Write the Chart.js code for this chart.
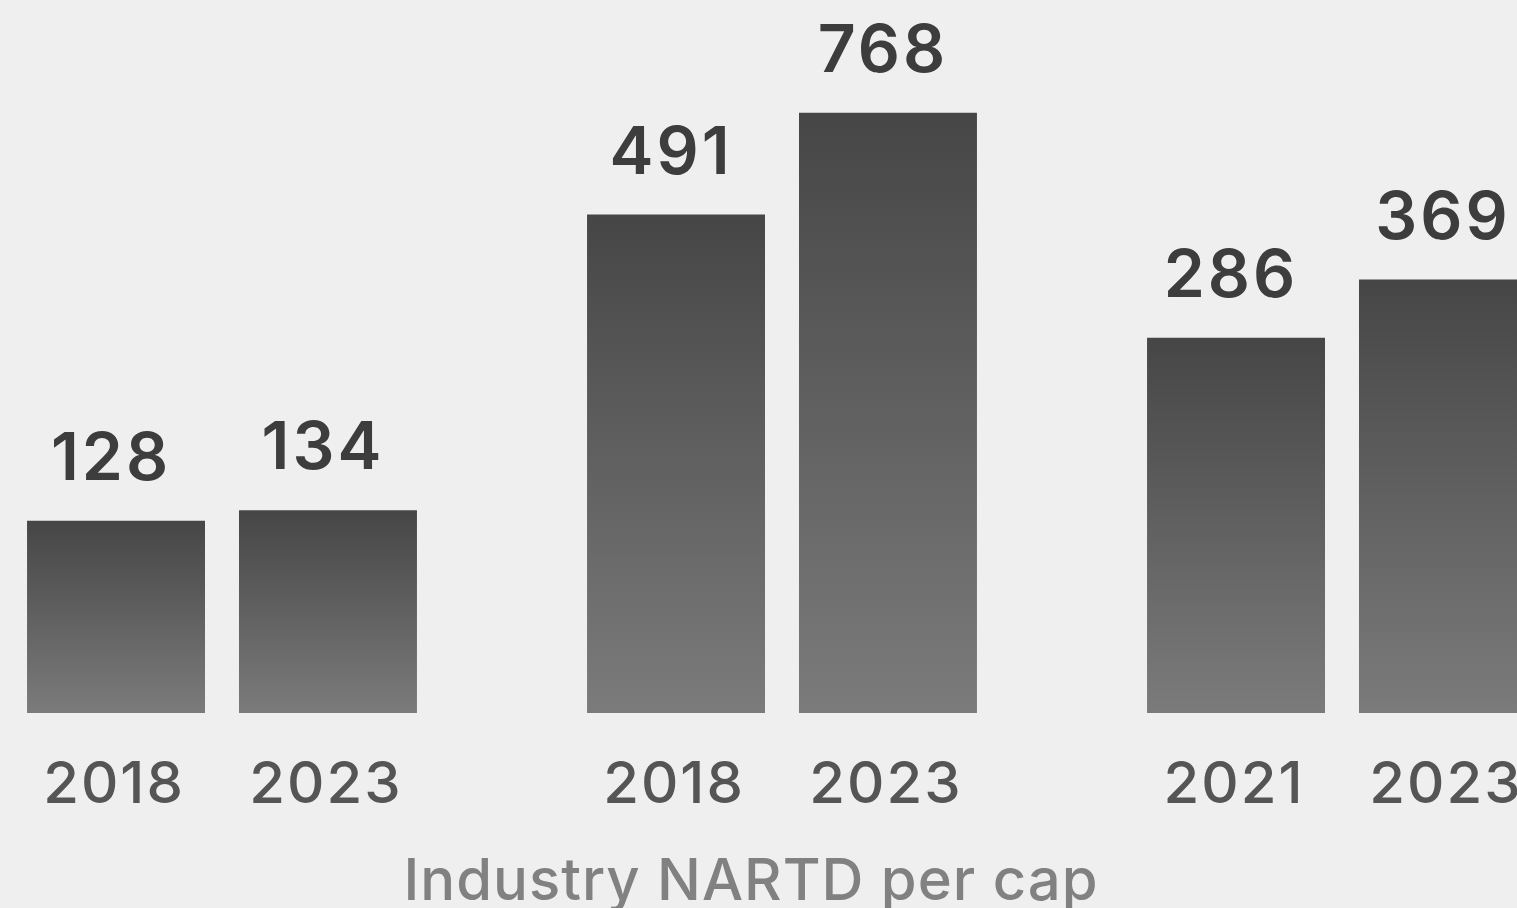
<!DOCTYPE html>
<html>
<head>
<meta charset="utf-8">
<script src="https://cdn.jsdelivr.net/npm/chart.js@4"></script>
<style>
    html, body { margin: 0; padding: 0; background: #efefef; overflow: hidden; }
    #wrap { position: absolute; left: -58px; top: 0; width: 1680px; height: 908px; }
</style>
</head>
<body>
<div id="wrap"><canvas id="chart"></canvas></div>
<script>
// NARTD per capita, first and latest year for each market
const markets = ['Market A', 'Market B', 'Market C'];
const firstYears = ['2018', '2018', '2021'];
const lastYears = ['2023', '2023', '2023'];
const firstValues = [128, 491, 286];
const lastValues = [134, 768, 369];
const axisTitle = 'Industry NARTD per cap';

const fontFamily = 'Inter, "Noto Sans", sans-serif';
const valueColor = '#3d3d3d';
const yearColor = '#555555';
const titleColor = '#818181';

/**
 * Vertical gradient from the bar top down to the baseline
 */
function barGradient(ctx) {
    const chart = ctx.chart;
    const { chartArea, scales } = chart;
    if (!chartArea || ctx.type !== 'data') return '#5f5f5f';
    const top = scales.y.getPixelForValue(ctx.raw);
    const g = chart.ctx.createLinearGradient(0, top, 0, chartArea.bottom);
    g.addColorStop(0, '#464646');
    g.addColorStop(1, '#7b7b7b');
    return g;
}

// Value above each bar, year below it, axis title at the bottom
const barLabels = {
    id: 'barLabels',
    afterDatasetsDraw(chart) {
        const c = chart.ctx;
        const years = [firstYears, lastYears];
        c.save();
        c.textAlign = 'center';
        c.textBaseline = 'alphabetic';
        chart.data.datasets.forEach((ds, di) => {
            chart.getDatasetMeta(di).data.forEach((bar, i) => {
                c.font = '600 66px ' + fontFamily;
                c.letterSpacing = '3px';
                c.fillStyle = valueColor;
                c.fillText(String(ds.data[i]), bar.x - 5, bar.y - 41);

                c.font = '500 58px ' + fontFamily;
                c.letterSpacing = '2px';
                c.fillStyle = yearColor;
                c.fillText(years[di][i], bar.x - 2, chart.chartArea.bottom + 90);
            });
        });
        c.font = '500 58px ' + fontFamily;
        c.letterSpacing = '1px';
        c.fillStyle = titleColor;
        c.fillText(axisTitle, 809, chart.chartArea.bottom + 187);
        c.restore();
    }
};

new Chart(document.getElementById('chart'), {
    type: 'bar',
    data: {
        labels: markets,
        datasets: [
            {
                label: 'First year',
                data: firstValues,
                backgroundColor: barGradient,
                borderWidth: 0
            },
            {
                label: 'Latest year',
                data: lastValues,
                backgroundColor: barGradient,
                borderWidth: 0
            }
        ]
    },
    options: {
        responsive: true,
        maintainAspectRatio: false,
        animation: false,
        categoryPercentage: 0.757,
        barPercentage: 0.8396,
        layout: { padding: { top: 0, bottom: 195, left: 0, right: 0 } },
        plugins: {
            legend: { display: false },
            tooltip: { enabled: false }
        },
        scales: {
            x: { display: false },
            y: { type: 'logarithmic', display: false, min: 55, max: 1260 }
        }
    },
    plugins: [barLabels]
});
</script>
</body>
</html>
